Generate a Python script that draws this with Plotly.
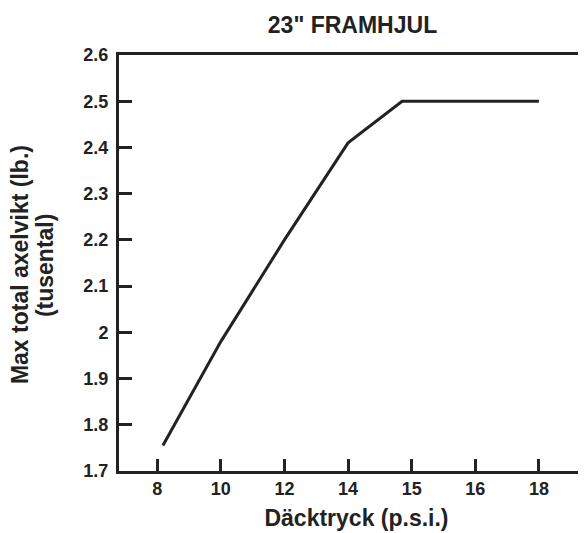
import numpy as np
import plotly.graph_objects as go

# tick labels on the (non-linear) pressure axis
psi_ticks = [8, 10, 12, 14, 15, 16, 18]
load_ticks = [1.7, 1.8, 1.9, 2.0, 2.1, 2.2, 2.3, 2.4, 2.5, 2.6]
load_labels = ["1.7", "1.8", "1.9", "2", "2.1", "2.2", "2.3", "2.4", "2.5", "2.6"]

# curve
psi = [8.18, 10, 12, 14, 14.85, 18]
load = [1.755, 1.98, 2.2, 2.41, 2.5, 2.5]

# the axis spaces ticks evenly, so place psi values by tick index
tick_pos = np.arange(len(psi_ticks))
x = np.interp(psi, psi_ticks, tick_pos)

ink = "#222222"
font = "Liberation Sans, Arial, sans-serif"

# page body adds an 8px offset; let the frame run off the right edge
W, H = 586, 525
L = 111

fig = go.Figure(
    go.Scatter(
        x=x,
        y=load,
        mode="lines",
        line=dict(color=ink, width=3),
        hoverinfo="skip",
    )
)

fig.update_layout(
    width=W,
    height=H,
    plot_bgcolor="white",
    paper_bgcolor="white",
    showlegend=False,
    margin={"l": L, "r": 0, "t": 47, "b": 62},
    font=dict(family=font, color=ink, size=18),
    title=dict(
        text="<b>23\" FRAMHJUL</b>",
        x=(578 / 2 + L / 2 - L) / (W - L),
        xref="paper",
        xanchor="center",
        y=1 - 17 / H,
        yanchor="middle",
        font=dict(size=23, family=font, color=ink),
    ),
)

fig.update_xaxes(
    range=[-0.6, 6.866],
    tickvals=tick_pos,
    ticktext=[f"<b>{t}</b>" for t in psi_ticks],
    ticks="inside",
    ticklen=12,
    tickwidth=3,
    tickcolor=ink,
    showline=True,
    linecolor=ink,
    linewidth=2.5,
    mirror=True,
    showgrid=False,
    zeroline=False,
    tickfont=dict(size=18, family=font),
    title=dict(
        text="<b>Däcktryck (p.s.i.)</b>",
        font=dict(size=23, family=font),
        standoff=12,
    ),
)

fig.update_yaxes(
    range=[1.7, 2.6],
    tickvals=load_ticks,
    ticktext=[f"<b>{t}</b>" for t in load_labels],
    ticks="inside",
    ticklen=13,
    tickwidth=3,
    tickcolor=ink,
    showline=True,
    linecolor=ink,
    linewidth=3,
    showgrid=False,
    zeroline=False,
    ticklabelstandoff=4,
    tickfont=dict(size=18, family=font),
)

# y title as two rotated lines, set closer than plotly's default line height
plot_w = W - L
for text, px_x in [("Max total axelvikt (lb.)", 12), ("(tusental)", 37)]:
    fig.add_annotation(
        text=f"<b>{text}</b>",
        xref="paper",
        yref="paper",
        x=(px_x - L) / plot_w,
        y=0.495,
        xanchor="center",
        yanchor="middle",
        textangle=-90,
        showarrow=False,
        font=dict(size=23, family=font, color=ink),
    )

fig.write_html("out.html")
